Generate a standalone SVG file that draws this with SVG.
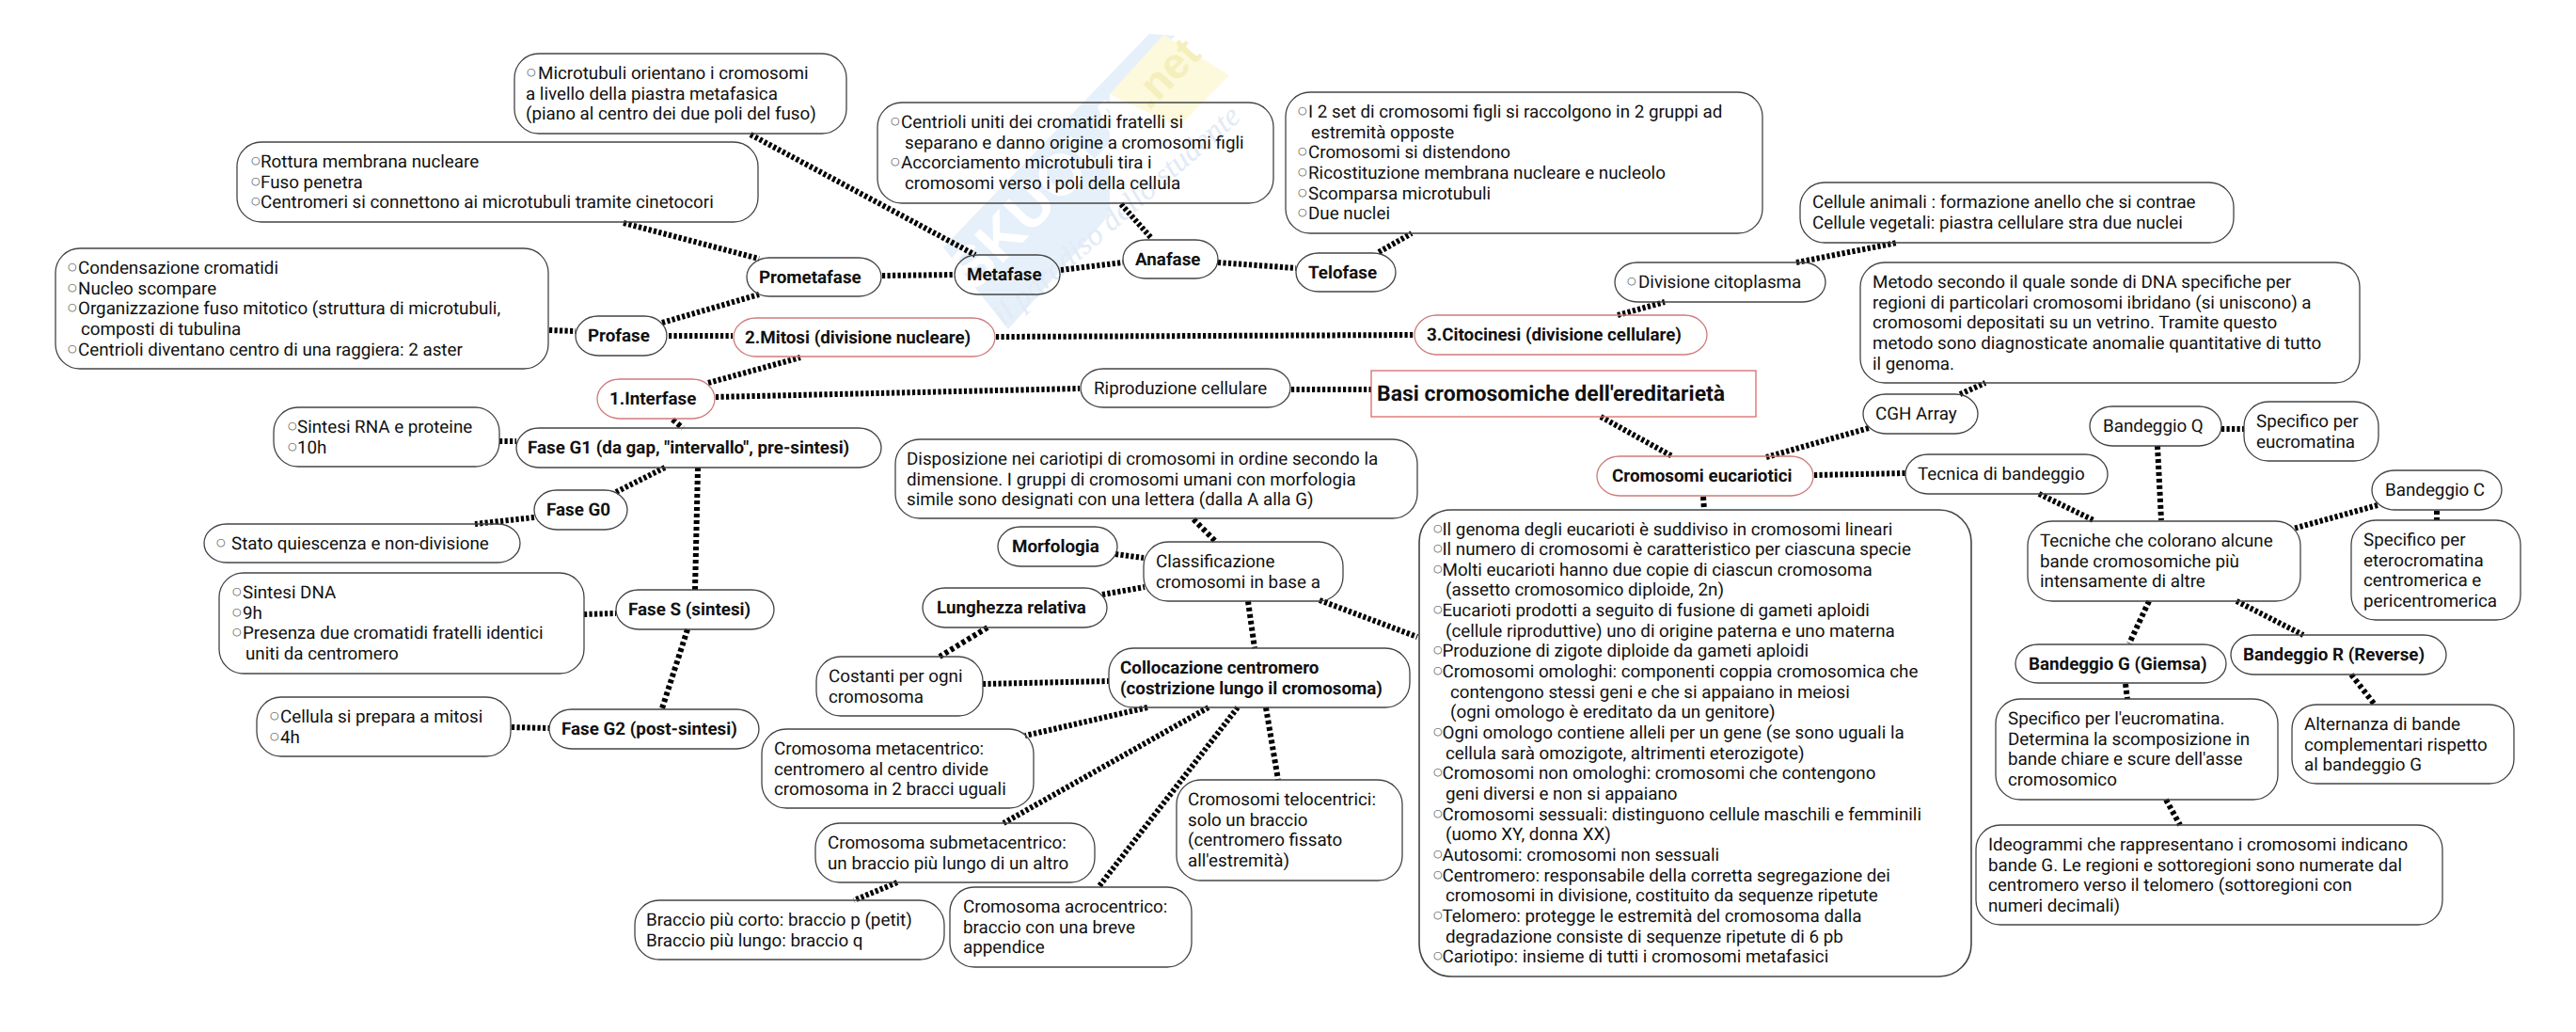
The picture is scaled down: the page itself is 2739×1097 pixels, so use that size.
<svg xmlns="http://www.w3.org/2000/svg" width="2739" height="1097" viewBox="0 0 2739 1097">
<style>
text{font-family:Roboto,"Liberation Sans",sans-serif;font-size:18.8px;fill:#111;text-rendering:geometricPrecision}
.h{font-weight:700}
.o{font-family:"DejaVu Sans",sans-serif;font-size:11px;fill:#444;transform:translateY(-4px)}
.n{fill:none;stroke:#444;stroke-width:1.3}
.r{fill:none;stroke:#cf7b7b;stroke-width:1.3}
#connectors line{stroke:#000;stroke-width:6;stroke-dasharray:3.2 2.3}
#connectors line.v{stroke-dasharray:4 3}
</style>
<rect width="2739" height="1097" fill="#fff"/>
<g id="watermark">
<polygon points="1222,36 1003,263 1072,350 1180,228 1180,100 1250,38" fill="#e6f0fa"/>
<polygon points="1237,37 1307,80 1253,135 1180,100" fill="#fdf9dc"/>
<text x="1035" y="312" transform="rotate(-46 1035 312)" style="font-family:'Liberation Sans',sans-serif;font-size:62px;font-weight:700;fill:#fff">SKUOLA</text>
<text x="1222" y="118" transform="rotate(-46 1222 118)" style="font-family:'Liberation Sans',sans-serif;font-size:46px;font-weight:700;fill:#f5efbc">.net</text>
<text x="1067" y="347" transform="rotate(-41 1067 347)" style="font-family:'Liberation Serif',serif;font-size:33px;font-style:italic;fill:#e2eaf5">il paradiso dello studente</text>
</g>
<g id="connectors">
<line x1="798" y1="143" x2="1037" y2="271"/>
<line x1="663" y1="237" x2="807" y2="275"/>
<line x1="704" y1="343" x2="807" y2="313"/>
<line x1="584" y1="351" x2="612" y2="352"/>
<line x1="711" y1="357" x2="779" y2="357"/>
<line x1="753" y1="407" x2="851" y2="380"/>
<line x1="761" y1="422" x2="1148" y2="413"/>
<line class="v" x1="715" y1="446" x2="726" y2="455"/>
<line x1="938" y1="293" x2="1015" y2="292"/>
<line x1="1128" y1="287" x2="1194" y2="279"/>
<line x1="1192" y1="217" x2="1225" y2="254"/>
<line x1="1295" y1="279" x2="1378" y2="285"/>
<line x1="1466" y1="268" x2="1501" y2="248"/>
<line x1="1059" y1="358" x2="1504" y2="356"/>
<line x1="1720" y1="335" x2="1770" y2="321"/>
<line x1="1910" y1="279" x2="2017" y2="258"/>
<line x1="1373" y1="414" x2="1458" y2="414"/>
<line x1="1702" y1="443" x2="1778" y2="485"/>
<line x1="1878" y1="486" x2="1987" y2="455"/>
<line x1="2084" y1="419" x2="2111" y2="407"/>
<line x1="1929" y1="505" x2="2026" y2="503"/>
<line class="v" x1="1811" y1="528" x2="1812" y2="542"/>
<line x1="2168" y1="525" x2="2226" y2="553"/>
<line x1="2362" y1="456" x2="2386" y2="456"/>
<line class="v" x1="2294" y1="474" x2="2298" y2="553"/>
<line x1="2528" y1="537" x2="2438" y2="562"/>
<line class="v" x1="2591" y1="543" x2="2591" y2="553"/>
<line class="v" x1="2285" y1="639" x2="2264" y2="684"/>
<line x1="2378" y1="639" x2="2449" y2="675"/>
<line class="v" x1="2260" y1="727" x2="2262" y2="743"/>
<line class="v" x1="2500" y1="717" x2="2525" y2="749"/>
<line class="v" x1="2303" y1="850" x2="2318" y2="877"/>
<line x1="531" y1="469" x2="549" y2="469"/>
<line x1="707" y1="497" x2="655" y2="523"/>
<line x1="568" y1="550" x2="505" y2="557"/>
<line class="v" x1="742" y1="497" x2="739" y2="627"/>
<line x1="621" y1="653" x2="655" y2="652"/>
<line class="v" x1="731" y1="669" x2="704" y2="753"/>
<line x1="544" y1="773" x2="584" y2="774"/>
<line class="v" x1="1269" y1="552" x2="1293" y2="576"/>
<line x1="1186" y1="589" x2="1216" y2="593"/>
<line x1="1172" y1="632" x2="1217" y2="624"/>
<line class="v" x1="1050" y1="667" x2="999" y2="698"/>
<line class="v" x1="1327" y1="639" x2="1334" y2="689"/>
<line x1="1403" y1="638" x2="1507" y2="677"/>
<line x1="1045" y1="727" x2="1179" y2="724"/>
<line x1="1220" y1="752" x2="1090" y2="782"/>
<line x1="1285" y1="752" x2="1067" y2="875"/>
<line x1="1316" y1="752" x2="1168" y2="943"/>
<line class="v" x1="1346" y1="752" x2="1359" y2="829"/>
<line x1="954" y1="938" x2="908" y2="957"/>
</g>
<g id="n-microtubuli"><rect class="n" x="547" y="57" width="353" height="85" rx="26"/>
<text class="o" x="560" y="84">○</text><text x="572" y="84">Microtubuli orientano i cromosomi</text><text x="559" y="105.65">a livello della piastra metafasica</text><text x="559" y="127.3">(piano al centro dei due poli del fuso)</text></g>
<g id="n-rottura"><rect class="n" x="252" y="151" width="554" height="85" rx="26"/>
<text class="o" x="267" y="178">○</text><text x="277" y="178">Rottura membrana nucleare</text>
<text class="o" x="267" y="199.65">○</text><text x="277" y="199.65">Fuso penetra</text>
<text class="o" x="267" y="221.3">○</text><text x="277" y="221.3">Centromeri si connettono ai microtubuli tramite cinetocori</text></g>
<g id="n-condensazione"><rect class="n" x="59" y="264" width="524" height="128" rx="26"/>
<text class="o" x="72" y="291">○</text><text x="83" y="291">Condensazione cromatidi</text>
<text class="o" x="72" y="312.65">○</text><text x="83" y="312.65">Nucleo scompare</text>
<text class="o" x="72" y="334.3">○</text><text x="83" y="334.3">Organizzazione fuso mitotico (struttura di microtubuli,</text>
<text x="86" y="355.95">composti di tubulina</text>
<text class="o" x="72" y="377.6">○</text><text x="83" y="377.6">Centrioli diventano centro di una raggiera: 2 aster</text></g>
<g id="n-prometafase"><rect class="n" x="794" y="274" width="143" height="41" rx="24" ry="20.5"/><text class="h" x="807" y="301">Prometafase</text></g>
<g id="n-profase"><rect class="n" x="612" y="336" width="97" height="42" rx="24" ry="21"/><text class="h" x="625" y="363">Profase</text></g>
<g id="n-mitosi"><rect class="r" x="780" y="338" width="278" height="41" rx="24" ry="20.5"/><text class="h" x="792" y="365">2.Mitosi (divisione nucleare)</text></g>
<g id="n-interfase"><rect class="r" x="635" y="403" width="125" height="42" rx="24" ry="21"/><text class="h" x="648" y="430">1.Interfase</text></g>
<g id="n-centrioli"><rect class="n" x="933" y="109" width="421" height="107" rx="26"/>
<text class="o" x="947" y="136">○</text><text x="958" y="136">Centrioli uniti dei cromatidi fratelli si</text>
<text x="962" y="157.65">separano e danno origine a cromosomi figli</text>
<text class="o" x="947" y="179.3">○</text><text x="958" y="179.3">Accorciamento microtubuli tira i</text>
<text x="962" y="200.95">cromosomi verso i poli della cellula</text></g>
<g id="n-telofase-note"><rect class="n" x="1367" y="98" width="507" height="150" rx="26"/>
<text class="o" x="1380" y="125">○</text><text x="1391" y="125">I 2 set di cromosomi figli si raccolgono in 2 gruppi ad</text>
<text x="1394" y="146.65">estremità opposte</text>
<text class="o" x="1380" y="168.3">○</text><text x="1391" y="168.3">Cromosomi si distendono</text>
<text class="o" x="1380" y="189.95">○</text><text x="1391" y="189.95">Ricostituzione membrana nucleare e nucleolo</text>
<text class="o" x="1380" y="211.6">○</text><text x="1391" y="211.6">Scomparsa microtubuli</text>
<text class="o" x="1380" y="233.25">○</text><text x="1391" y="233.25">Due nuclei</text></g>
<g id="n-metafase"><rect class="n" x="1015" y="271" width="112" height="42" rx="24" ry="21"/><text class="h" x="1028" y="298">Metafase</text></g>
<g id="n-anafase"><rect class="n" x="1194" y="255" width="101" height="41" rx="24" ry="20.5"/><text class="h" x="1207" y="282">Anafase</text></g>
<g id="n-telofase"><rect class="n" x="1378" y="269" width="106" height="41" rx="24" ry="20.5"/><text class="h" x="1391" y="296">Telofase</text></g>
<g id="n-divisione"><rect class="n" x="1717" y="279" width="224" height="42" rx="24" ry="21"/><text class="o" x="1730" y="306">○</text><text x="1742" y="306">Divisione citoplasma</text></g>
<g id="n-citocinesi"><rect class="r" x="1504" y="335" width="311" height="42" rx="24" ry="21"/><text class="h" x="1517" y="362">3.Citocinesi (divisione cellulare)</text></g>
<g id="n-riproduzione"><rect class="n" x="1149" y="392" width="223" height="41" rx="24" ry="20.5"/><text x="1163" y="419">Riproduzione cellulare</text></g>
<g id="n-title"><rect class="r" x="1458" y="394" width="409" height="49" style="stroke:#d96a6a"/><text class="h" x="1464" y="426" style="font-size:23px">Basi cromosomiche dell'ereditarietà</text></g>
<g id="n-cellule"><rect class="n" x="1914" y="194" width="461" height="64" rx="26"/><text x="1927" y="221">Cellule animali : formazione anello che si contrae</text><text x="1927" y="242.65">Cellule vegetali: piastra cellulare stra due nuclei</text></g>
<g id="n-metodo"><rect class="n" x="1978" y="279" width="531" height="128" rx="26"/><text x="1991" y="306">Metodo secondo il quale sonde di DNA specifiche per</text><text x="1991" y="327.65">regioni di particolari cromosomi ibridano (si uniscono) a</text><text x="1991" y="349.3">cromosomi depositati su un vetrino. Tramite questo</text><text x="1991" y="370.95">metodo sono diagnosticate anomalie quantitative di tutto</text><text x="1991" y="392.6">il genoma.</text></g>
<g id="n-cgh"><rect class="n" x="1981" y="419" width="122" height="42" rx="24" ry="21"/><text x="1994" y="446">CGH Array</text></g>
<g id="n-bandq"><rect class="n" x="2222" y="432" width="140" height="42" rx="24" ry="21"/><text x="2236" y="459">Bandeggio Q</text></g>
<g id="n-specq"><rect class="n" x="2386" y="427" width="143" height="63" rx="26"/><text x="2399" y="454">Specifico per</text><text x="2399" y="475.65">eucromatina</text></g>
<g id="n-tecnica"><rect class="n" x="2026" y="483" width="215" height="42" rx="24" ry="21"/><text x="2039" y="510">Tecnica di bandeggio</text></g>
<g id="n-eucarioti"><rect class="r" x="1698" y="485" width="230" height="42" rx="24" ry="21"/><text class="h" x="1714" y="512">Cromosomi eucariotici</text></g>
<g id="n-bandc"><rect class="n" x="2522" y="500" width="138" height="42" rx="24" ry="21"/><text x="2536" y="527">Bandeggio C</text></g>
<g id="n-tecniche"><rect class="n" x="2156" y="554" width="290" height="85" rx="26"/><text x="2169" y="581">Tecniche che colorano alcune</text><text x="2169" y="602.65">bande cromosomiche più</text><text x="2169" y="624.3">intensamente di altre</text></g>
<g id="n-specc"><rect class="n" x="2500" y="553" width="180" height="106" rx="26"/><text x="2513" y="580">Specifico per</text><text x="2513" y="601.65">eterocromatina</text><text x="2513" y="623.3">centromerica e</text><text x="2513" y="644.95">pericentromerica</text></g>
<g id="n-bandg"><rect class="n" x="2143" y="685" width="224" height="41" rx="24" ry="20.5"/><text class="h" x="2157" y="712">Bandeggio G (Giemsa)</text></g>
<g id="n-bandr"><rect class="n" x="2372" y="675" width="229" height="42" rx="24" ry="21"/><text class="h" x="2385" y="702">Bandeggio R (Reverse)</text></g>
<g id="n-specg"><rect class="n" x="2122" y="743" width="300" height="107" rx="26"/><text x="2135" y="770">Specifico per l'eucromatina.</text><text x="2135" y="791.65">Determina la scomposizione in</text><text x="2135" y="813.3">bande chiare e scure dell'asse</text><text x="2135" y="834.95">cromosomico</text></g>
<g id="n-alternanza"><rect class="n" x="2437" y="749" width="236" height="84" rx="26"/><text x="2450" y="776">Alternanza di bande</text><text x="2450" y="797.65">complementari rispetto</text><text x="2450" y="819.3">al bandeggio G</text></g>
<g id="n-ideogrammi"><rect class="n" x="2101" y="877" width="496" height="106" rx="26"/><text x="2114" y="904">Ideogrammi che rappresentano i cromosomi indicano</text><text x="2114" y="925.65">bande G. Le regioni e sottoregioni sono numerate dal</text><text x="2114" y="947.3">centromero verso il telomero (sottoregioni con</text><text x="2114" y="968.95">numeri decimali)</text></g>
<g id="n-rna"><rect class="n" x="291" y="433" width="240" height="63" rx="26"/><text class="o" x="306" y="460">○</text><text x="316" y="460">Sintesi RNA e proteine</text><text class="o" x="306" y="481.65">○</text><text x="316" y="481.65">10h</text></g>
<g id="n-g1"><rect class="n" x="549" y="455" width="388" height="42" rx="24" ry="21"/><text class="h" x="561" y="482">Fase G1 (da gap, "intervallo", pre-sintesi)</text></g>
<g id="n-g0"><rect class="n" x="568" y="521" width="99" height="42" rx="24" ry="21"/><text class="h" x="581" y="548">Fase G0</text></g>
<g id="n-stato"><rect class="n" x="217" y="557" width="336" height="41" rx="24" ry="20.5"/><text class="o" x="230" y="584">○</text><text x="246" y="584">Stato quiescenza e non-divisione</text></g>
<g id="n-dna"><rect class="n" x="233" y="609" width="388" height="107" rx="26"/><text class="o" x="247" y="636">○</text><text x="258" y="636">Sintesi DNA</text><text class="o" x="247" y="657.65">○</text><text x="258" y="657.65">9h</text><text class="o" x="247" y="679.3">○</text><text x="258" y="679.3">Presenza due cromatidi fratelli identici</text><text x="261" y="700.95">uniti da centromero</text></g>
<g id="n-s"><rect class="n" x="655" y="627" width="168" height="42" rx="24" ry="21"/><text class="h" x="668" y="654">Fase S (sintesi)</text></g>
<g id="n-cellula"><rect class="n" x="273" y="741" width="270" height="63" rx="26"/><text class="o" x="287" y="768">○</text><text x="298" y="768">Cellula si prepara a mitosi</text><text class="o" x="287" y="789.65">○</text><text x="298" y="789.65">4h</text></g>
<g id="n-g2"><rect class="n" x="584" y="754" width="223" height="42" rx="24" ry="21"/><text class="h" x="597" y="781">Fase G2 (post-sintesi)</text></g>
<g id="n-disposizione"><rect class="n" x="952" y="467" width="555" height="84" rx="26"/><text x="964" y="494">Disposizione nei cariotipi di cromosomi in ordine secondo la</text><text x="964" y="515.65">dimensione. I gruppi di cromosomi umani con morfologia</text><text x="964" y="537.3">simile sono designati con una lettera (dalla A alla G)</text></g>
<g id="n-morfologia"><rect class="n" x="1061" y="560" width="127" height="42" rx="24" ry="21"/><text class="h" x="1076" y="587">Morfologia</text></g>
<g id="n-classificazione"><rect class="n" x="1216" y="576" width="212" height="63" rx="26"/><text x="1229" y="603">Classificazione</text><text x="1229" y="624.65">cromosomi in base a</text></g>
<g id="n-lunghezza"><rect class="n" x="981" y="625" width="196" height="42" rx="24" ry="21"/><text class="h" x="996" y="652">Lunghezza relativa</text></g>
<g id="n-costanti"><rect class="n" x="868" y="698" width="177" height="63" rx="26"/><text x="881" y="725">Costanti per ogni</text><text x="881" y="746.65">cromosoma</text></g>
<g id="n-collocazione"><rect class="n" x="1179" y="689" width="320" height="63" rx="26"/><text class="h" x="1191" y="716">Collocazione centromero</text><text class="h" x="1191" y="737.65">(costrizione lungo il cromosoma)</text></g>
<g id="n-meta"><rect class="n" x="810" y="775" width="289" height="84" rx="26"/><text x="823" y="802">Cromosoma metacentrico:</text><text x="823" y="823.65">centromero al centro divide</text><text x="823" y="845.3">cromosoma in 2 bracci uguali</text></g>
<g id="n-telo"><rect class="n" x="1251" y="829" width="240" height="107" rx="26"/><text x="1263" y="856">Cromosomi telocentrici:</text><text x="1263" y="877.65">solo un braccio</text><text x="1263" y="899.3">(centromero fissato</text><text x="1263" y="920.95">all'estremità)</text></g>
<g id="n-sub"><rect class="n" x="867" y="875" width="297" height="63" rx="26"/><text x="880" y="902">Cromosoma submetacentrico:</text><text x="880" y="923.65">un braccio più lungo di un altro</text></g>
<g id="n-braccio"><rect class="n" x="675" y="957" width="329" height="63" rx="26"/><text x="687" y="984">Braccio più corto: braccio p (petit)</text><text x="687" y="1005.65">Braccio più lungo: braccio q</text></g>
<g id="n-acro"><rect class="n" x="1010" y="943" width="257" height="85" rx="26"/><text x="1024" y="970">Cromosoma acrocentrico:</text><text x="1024" y="991.65">braccio con una breve</text><text x="1024" y="1013.3">appendice</text></g>
<g id="n-genoma"><rect class="n" x="1509" y="542" width="587" height="496" rx="34" style="stroke-width:1.6"/>
<text class="o" x="1524" y="568.5">○</text><text x="1533.5" y="568.5">Il genoma degli eucarioti è suddiviso in cromosomi lineari</text>
<text class="o" x="1524" y="590.15">○</text><text x="1533.5" y="590.15">Il numero di cromosomi è caratteristico per ciascuna specie</text>
<text class="o" x="1524" y="611.8">○</text><text x="1533.5" y="611.8">Molti eucarioti hanno due copie di ciascun cromosoma</text>
<text x="1537" y="633.45">(assetto cromosomico diploide, 2n)</text>
<text class="o" x="1524" y="655.1">○</text><text x="1533.5" y="655.1">Eucarioti prodotti a seguito di fusione di gameti aploidi</text>
<text x="1537" y="676.75">(cellule riproduttive) uno di origine paterna e uno materna</text>
<text class="o" x="1524" y="698.4">○</text><text x="1533.5" y="698.4">Produzione di zigote diploide da gameti aploidi</text>
<text class="o" x="1524" y="720.05">○</text><text x="1533.5" y="720.05">Cromosomi omologhi: componenti coppia cromosomica che</text>
<text x="1542" y="741.7">contengono stessi geni e che si appaiano in meiosi</text>
<text x="1542" y="763.35">(ogni omologo è ereditato da un genitore)</text>
<text class="o" x="1524" y="785">○</text><text x="1533.5" y="785">Ogni omologo contiene alleli per un gene (se sono uguali la</text>
<text x="1537" y="806.65">cellula sarà omozigote, altrimenti eterozigote)</text>
<text class="o" x="1524" y="828.3">○</text><text x="1533.5" y="828.3">Cromosomi non omologhi: cromosomi che contengono</text>
<text x="1537" y="849.95">geni diversi e non si appaiano</text>
<text class="o" x="1524" y="871.6">○</text><text x="1533.5" y="871.6">Cromosomi sessuali: distinguono cellule maschili e femminili</text>
<text x="1537" y="893.25">(uomo XY, donna XX)</text>
<text class="o" x="1524" y="914.9">○</text><text x="1533.5" y="914.9">Autosomi: cromosomi non sessuali</text>
<text class="o" x="1524" y="936.55">○</text><text x="1533.5" y="936.55">Centromero: responsabile della corretta segregazione dei</text>
<text x="1537" y="958.2">cromosomi in divisione, costituito da sequenze ripetute</text>
<text class="o" x="1524" y="979.85">○</text><text x="1533.5" y="979.85">Telomero: protegge le estremità del cromosoma dalla</text>
<text x="1537" y="1001.5">degradazione consiste di sequenze ripetute di 6 pb</text>
<text class="o" x="1524" y="1023.15">○</text><text x="1533.5" y="1023.15">Cariotipo: insieme di tutti i cromosomi metafasici</text></g>
</svg>
